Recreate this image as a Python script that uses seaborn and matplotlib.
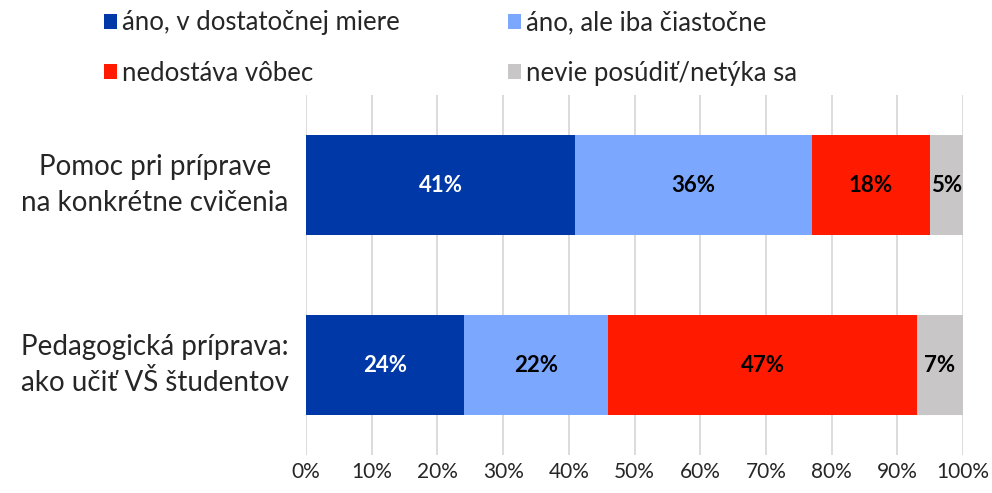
import matplotlib
matplotlib.use("Agg")
import matplotlib.pyplot as plt
import seaborn as sns
import pandas as pd
import numpy as np
from matplotlib.patches import Patch
from matplotlib.transforms import blended_transform_factory

# Survey answers per question (percent)
categories = ["Pomoc pri príprave\nna konkrétne cvičenia",
              "Pedagogická príprava:\nako učiť VŠ študentov"]
series_names = ["áno, v dostatočnej miere", "áno, ale iba čiastočne",
                "nedostáva vôbec", "nevie posúdiť/netýka sa"]
dostatocne = [41, 24]
ciastocne = [36, 22]
vobec = [18, 47]
nevie = [5, 7]
tick_labels = ["0%", "10%", "20%", "30%", "40%", "50%", "60%", "70%", "80%", "90%", "100%"]

colors = ["#0038A8", "#7BA7FF", "#FF1A00", "#C8C6C6"]
label_colors = ["white", "black", "black", "black"]

sns.set_theme(style="white")
plt.rcParams["font.family"] = ["Lato", "DejaVu Sans"]

series = [dostatocne, ciastocne, vobec, nevie]
df = pd.DataFrame({"kategoria": categories})
for name, vals in zip(series_names, series):
    df[name] = vals
cum = df[series_names].cumsum(axis=1)

fig = plt.figure(figsize=(9.92, 4.93), dpi=100)
ax = fig.add_axes([306 / 992, 1 - 455 / 493, (963 - 306) / 992, (455 - 95) / 493])

# stacked bars: draw cumulative totals from the widest down
for name, col in reversed(list(zip(series_names, colors))):
    sns.barplot(x=cum[name], y=df["kategoria"], color=col, orient="h",
                width=0.556, ax=ax, saturation=1, linewidth=0, zorder=3)

# segment labels
for i in range(len(categories)):
    left = 0
    for name, tc in zip(series_names, label_colors):
        v = df.loc[i, name]
        ax.text(left + v / 2, i, f"{v}%", ha="center", va="center",
                color=tc, fontsize=16, fontweight="bold", zorder=5)
        left += v

ax.set_xlim(0, 100)
ax.set_ylim(1.5, -0.5)
ax.set_xticks(np.arange(0, 101, 10))
ax.set_xticklabels(tick_labels, fontsize=15)
ax.tick_params(axis="x", length=0, pad=5)
ax.set_yticks([])
ax.set_xlabel("")
ax.set_ylabel("")

# category names, centred in the left margin
trans = blended_transform_factory(ax.transAxes, ax.transData)
for i, cat in enumerate(categories):
    ax.text(-0.2298, i, cat, transform=trans, ha="center", va="center",
            fontsize=20, linespacing=1.45)

ax.grid(axis="x", color="#D9D9D9", linewidth=1.3, zorder=0)
ax.set_axisbelow(True)
for s in ax.spines.values():
    s.set_visible(False)

# legend laid out row by row
order = [0, 2, 1, 3]
handles = [Patch(facecolor=colors[k], edgecolor="none") for k in order]
labels = [series_names[k] for k in order]
fig.legend(handles, labels, loc="upper left", bbox_to_anchor=(104 / 992, 0.979),
           ncol=2, frameon=False, fontsize=18.5, handlelength=0.5, handleheight=0.5,
           handletextpad=0.2, columnspacing=4.2, labelspacing=0.98, borderpad=0,
           borderaxespad=0)

fig.savefig("out.png", dpi=100)
